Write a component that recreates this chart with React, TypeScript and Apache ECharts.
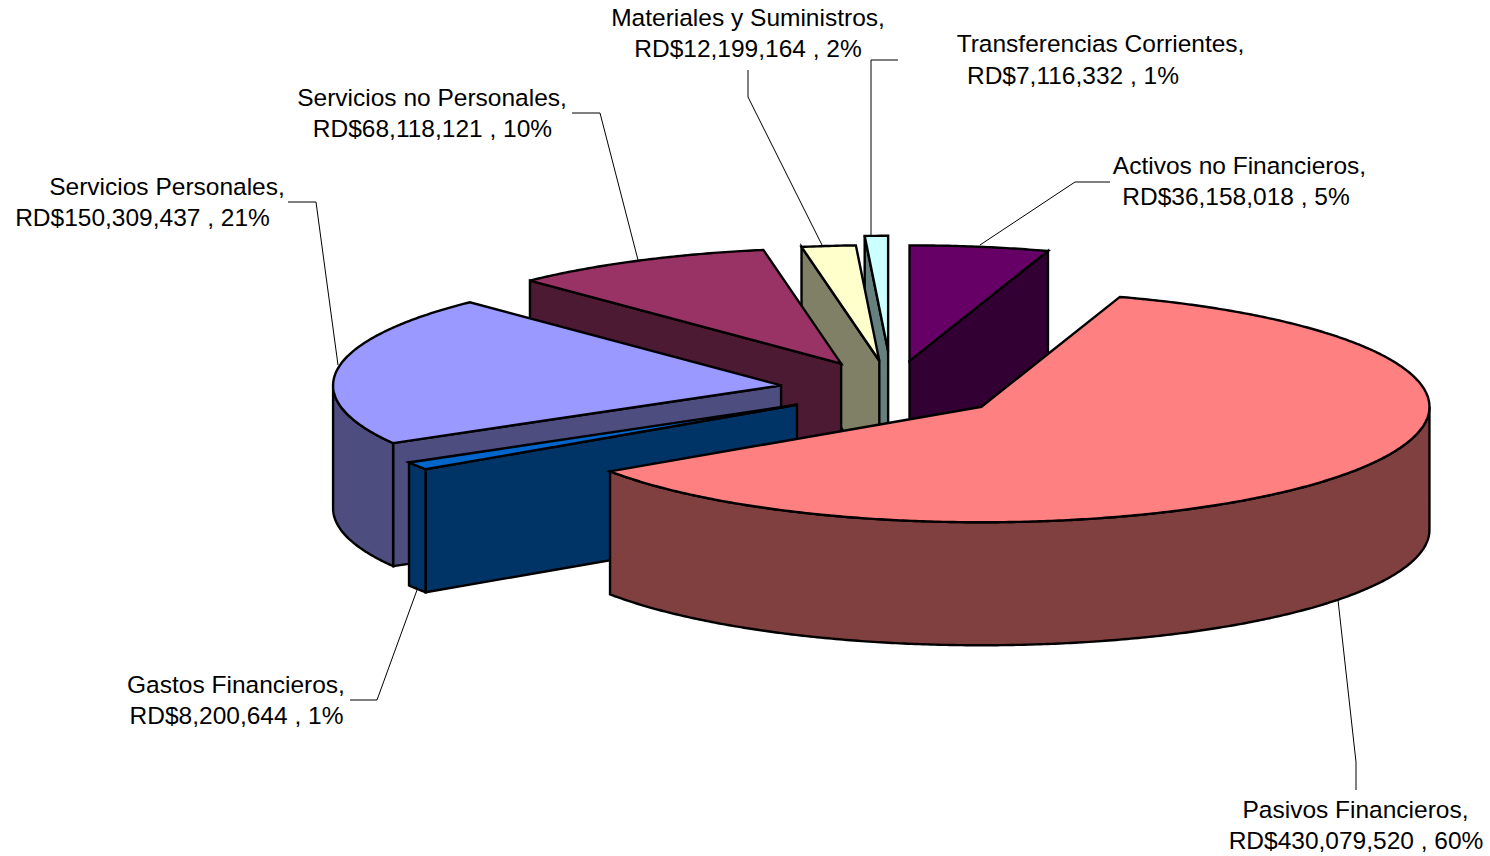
import React, { useEffect, useRef } from "react";
import * as echarts from "echarts";

// ---- data (clockwise from the first slice) ----
const categories = [
  "Pasivos Financieros",
  "Gastos Financieros",
  "Servicios Personales",
  "Servicios no Personales",
  "Materiales y Suministros",
  "Transferencias Corrientes",
  "Activos no Financieros",
];
const amounts = [430079520, 8200644, 150309437, 68118121, 12199164, 7116332, 36158018];
const explosions = [0.25, 0.25, 0.25, 0.25, 0.25, 0.33, 0.25];

// ---- styles ----
const topColors = ["#FF8080", "#0066CC", "#9999FF", "#993366", "#FFFFCC", "#CCFFFF", "#660066"];
const sideColors = ["#804040", "#003366", "#4D4D80", "#4D1A33", "#808066", "#668080", "#330033"];

// ---- pie projection ----
const CX = 892;
const CY = 389.4;
const RX = 448;
const RY = 115.5;
const DEPTH = 123;
const START_ANGLE = 18;
const FONT_SIZE = 24.5;

// ---- label layout: [centre x, y] of each of the two lines, per slice ----
const labelLayout: number[][][] = [
  [[1355.5, 809], [1356, 840]],
  [[236, 684], [236.5, 715]],
  [[167, 186], [142.5, 217]],
  [[432, 97], [432.5, 128]],
  [[748, 17], [748, 48]],
  [[1100.5, 43], [1073, 75]],
  [[1239.5, 165], [1236, 196]],
];
const leaderLayout: number[][][] = [
  [[1338, 600], [1356, 762], [1356, 790]],
  [[417, 590], [377, 700], [350, 700]],
  [[288, 202], [316, 202], [338, 365]],
  [[572, 113], [600, 113], [638, 260]],
  [[748, 70], [748, 97], [822, 245]],
  [[898, 60], [871, 60], [871, 236]],
  [[980, 245], [1075, 182], [1110, 182]],
];

const total = amounts.reduce((s, v) => s + v, 0);
const rad = (d: number) => (d * Math.PI) / 180;

// slice boundaries fall on whole degrees, rounded up from the running total
const spans = (() => {
  let sum = 0;
  let a = START_ANGLE;
  return amounts.map((v) => {
    sum += v;
    const b = Math.ceil(START_ANGLE + (sum / total) * 360 - 1e-6);
    const s = { a, b };
    a = b;
    return s;
  });
})();

function renderItem(_params: any, api: any) {
  const i = api.value(0);
  const { a, b } = spans[i];
  const mid = rad((a + b) / 2);
  const e = explosions[i];
  const cx = CX + e * RX * Math.sin(mid);
  const cy = CY - e * RY * Math.cos(mid);
  const pt = (deg: number, dz = 0) => [cx + RX * Math.sin(rad(deg)), cy - RY * Math.cos(rad(deg)) + dz];
  const arc = (from: number, to: number, dz = 0) => {
    const out: number[][] = [];
    const n = Math.max(2, Math.ceil(Math.abs(to - from) * 2));
    for (let k = 0; k <= n; k++) out.push(pt(from + ((to - from) * k) / n, dz));
    return out;
  };
  const line = { stroke: "#000", lineWidth: 2.4, lineJoin: "miter" };
  const face = (points: number[][], fill: string) => ({
    type: "polygon",
    shape: { points },
    style: { fill, ...line },
  });
  const side = sideColors[i];
  const children: any[] = [];
  const wall = (deg: number) =>
    face([[cx, cy], pt(deg), pt(deg, DEPTH), [cx, cy + DEPTH]], side);
  if (Math.sin(rad(a)) < -1e-6) children.push(wall(a));
  if (Math.sin(rad(b)) > 1e-6) children.push(wall(b));
  // the outer rim is seen only on the near half of the ellipse
  for (const [lo, hi] of [[90, 270], [450, 630]]) {
    const from = Math.max(a, lo);
    const to = Math.min(b, hi);
    if (to > from) children.push(face([...arc(from, to), ...arc(to, from, DEPTH)], side));
  }
  children.push(face([[cx, cy], ...arc(a, b)], topColors[i]));
  return { type: "group", children };
}

export default function App() {
  const ref = useRef<HTMLDivElement>(null);
  useEffect(() => {
    document.body.style.margin = "0";
    const chart = echarts.init(ref.current!, undefined, { renderer: "svg" });
    const money = (v: number) => "RD$" + v.toLocaleString("en-US");
    const elements: any[] = [];
    categories.forEach((name, i) => {
      const lines = [
        `${name},`,
        `${money(amounts[i])} , ${Math.round((amounts[i] / total) * 100)}%`,
      ];
      lines.forEach((text, k) => {
        elements.push({
          type: "text",
          x: labelLayout[i][k][0],
          y: labelLayout[i][k][1],
          style: {
            text,
            fill: "#000",
            font: `${FONT_SIZE}px "Liberation Sans", Arial, sans-serif`,
            textAlign: "center",
            textVerticalAlign: "middle",
          },
        });
      });
      elements.push({
        type: "polyline",
        shape: { points: leaderLayout[i] },
        style: { stroke: "#000", lineWidth: 1, fill: "none" },
        z: -1,
      });
    });
    chart.setOption({
      animation: false,
      backgroundColor: "#fff",
      tooltip: { show: false },
      series: [
        {
          type: "custom",
          coordinateSystem: "none",
          clip: false,
          silent: true,
          renderItem,
          // painted from the far slices to the near ones
          data: categories
            .map((name, i) => ({ name, value: [i, amounts[i]] }))
            .reverse(),
          z: 2,
        },
      ],
      graphic: { elements },
    });
    return () => chart.dispose();
  }, []);
  return <div ref={ref} style={{ display: "block", width: 1490, height: 856 }} />;
}
